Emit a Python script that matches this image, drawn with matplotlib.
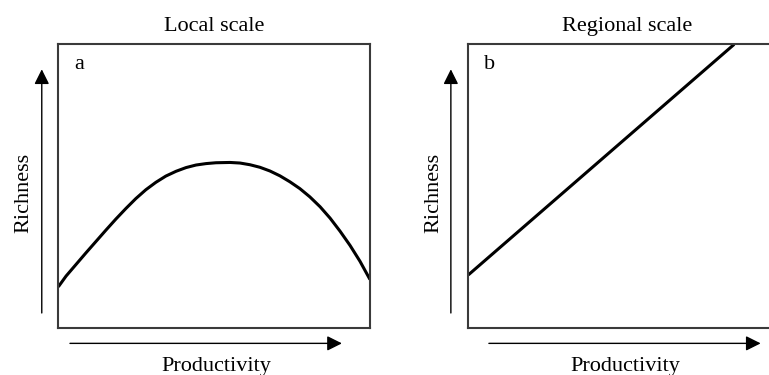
import matplotlib
matplotlib.use("Agg")
import matplotlib.pyplot as plt
from matplotlib.patches import FancyArrowPatch

plt.rcParams['font.family'] = ['Liberation Serif', 'DejaVu Serif']

# Hump-shaped richness-productivity relation (local scale)
local_productivity = [0.0, 0.025, 0.057, 0.089, 0.121, 0.153, 0.185, 0.217, 0.249,
                      0.281, 0.313, 0.345, 0.378, 0.410, 0.442, 0.474, 0.506, 0.551,
                      0.583, 0.615, 0.647, 0.679, 0.711, 0.743, 0.775, 0.807, 0.840,
                      0.872, 0.904, 0.936, 0.968, 1.0]
local_richness = [0.146, 0.184, 0.225, 0.266, 0.306, 0.346, 0.385, 0.422, 0.457,
                  0.488, 0.514, 0.536, 0.553, 0.566, 0.575, 0.580, 0.583, 0.584,
                  0.582, 0.576, 0.567, 0.554, 0.537, 0.516, 0.492, 0.463, 0.428,
                  0.388, 0.342, 0.292, 0.236, 0.172]

# Monotonic increasing relation (regional scale)
regional_productivity = [0.0, 0.853]
regional_richness = [0.188, 1.0]

panel_titles = ["Local scale", "Regional scale"]
panel_letters = ["a", "b"]
x_label = "Productivity"
y_label = "Richness"

fig = plt.figure(figsize=(7.69, 3.75), dpi=100)
ax_a = fig.add_axes([0.0758, 0.1245, 0.4053, 0.7573])
ax_b = fig.add_axes([0.6090, 0.1245, 0.4053, 0.7573])

box_color = "#3a3a3a"
fs = 16

# per-panel arrow and label placement in axes fraction
geom = [
    dict(vx=-0.053, vy0=0.054, vy1=0.912, hy=-0.053, hx0=0.0375, hx1=0.910,
         ylab_x=-0.110, xlab_x=0.508, title_x=0.50),
    dict(vx=-0.056, vy0=0.054, vy1=0.912, hy=-0.053, hx0=0.066, hx1=0.938,
         ylab_x=-0.112, xlab_x=0.503, title_x=0.508),
]

for ax, title, letter, g in zip([ax_a, ax_b], panel_titles, panel_letters, geom):
    ax.set_xlim(0, 1)
    ax.set_ylim(0, 1)
    ax.set_xticks([])
    ax.set_yticks([])
    for s in ax.spines.values():
        s.set_color(box_color)
        s.set_linewidth(1.5)
    ax.text(g['title_x'], 1.047, title, transform=ax.transAxes, ha='center',
            va='baseline', fontsize=fs)
    ax.text(0.05, 0.912, letter, transform=ax.transAxes, ha='left',
            va='baseline', fontsize=fs)
    ax.text(g['xlab_x'], -0.150, x_label, transform=ax.transAxes, ha='center',
            va='baseline', fontsize=fs)
    ax.text(g['ylab_x'], 0.478, y_label, transform=ax.transAxes, ha='center',
            va='center', rotation=90, fontsize=fs)
    for p0, p1 in [((g['vx'], g['vy0']), (g['vx'], g['vy1'])),
                   ((g['hx0'], g['hy']), (g['hx1'], g['hy']))]:
        arr = FancyArrowPatch(p0, p1, transform=ax.transAxes,
                              arrowstyle='-|>,head_length=0.6,head_width=0.3',
                              mutation_scale=15, color='black', lw=1.0,
                              clip_on=False, shrinkA=0, shrinkB=0)
        ax.add_artist(arr)

ax_a.plot(local_productivity, local_richness, color='black', lw=2.2,
          solid_capstyle='butt', solid_joinstyle='round')
ax_b.plot(regional_productivity, regional_richness, color='black', lw=2.2,
          solid_capstyle='butt')

fig.savefig("out.png", dpi=100)
